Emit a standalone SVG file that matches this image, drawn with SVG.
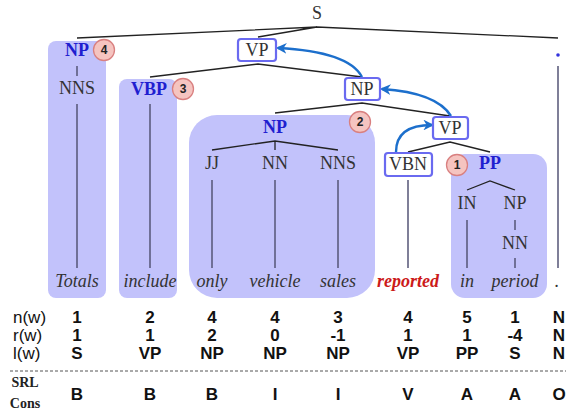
<svg xmlns="http://www.w3.org/2000/svg" width="571" height="414" viewBox="0 0 571 414">
<style>
.bg{fill:#c2c2fb}
.t{font-family:"Liberation Serif",serif;font-size:18px;fill:#333;text-anchor:middle}
.bl{font-family:"Liberation Serif",serif;font-size:18px;font-weight:bold;fill:#1f1fd0;text-anchor:middle}
.w{font-family:"Liberation Serif",serif;font-size:18px;font-style:italic;fill:#333;text-anchor:middle}
.ln{stroke:#222;stroke-width:1.3;fill:none}
.vl{stroke:#555577;stroke-width:1.5;fill:none}
.bx{fill:#fff;stroke:#6a6af0;stroke-width:2.2}
.c{fill:#f5c4c0;stroke:#d98080;stroke-width:1.3}
.cn{font-family:"Liberation Sans",sans-serif;font-size:12px;font-weight:bold;fill:#222;text-anchor:middle}
.ar{stroke:#1c6fcc;stroke-width:2.4;fill:none}
.tb{font-family:"Liberation Sans",sans-serif;font-size:17px;font-weight:bold;fill:#111;text-anchor:middle}
.tl{font-family:"Liberation Sans",sans-serif;font-size:17px;fill:#111}
.sr{font-family:"Liberation Serif",serif;font-size:14px;font-weight:bold;fill:#222;text-anchor:middle}
</style>
<defs>
<marker id="ah" viewBox="0 0 10 10" refX="8" refY="5" markerWidth="4.5" markerHeight="4.5" orient="auto">
<path d="M0,0 L10,5 L0,10 L3,5 Z" fill="#1c6fcc"/>
</marker>
</defs>
<rect width="571" height="414" fill="#fff"/>

<g id="highlights">
<rect class="bg" x="48" y="41" width="58" height="257" rx="8"/>
<rect class="bg" x="119" y="79" width="58" height="219" rx="8"/>
<rect class="bg" x="189" y="115" width="186" height="183" rx="28"/>
<rect class="bg" x="451" y="154" width="96" height="144" rx="14"/>
</g>

<g id="connectors">
<path class="ln" d="M77,38 L317,27 L558,38 M317,27 L258,37"/>
<path class="ln" d="M150,77 L258,64 L362,77"/>
<path class="ln" d="M275,113 L362,103 L450,116"/>
<path class="ln" d="M212,150 L275,141 L338,150 M275,141 V150"/>
<path class="ln" d="M408,152 L450,142 L490,152"/>
<path class="ln" d="M467,190 L490,181 L515,190"/>
<path class="vl" d="M77,66 V76 M77,104 V268 M150,104 V268 M212,180 V268 M275,180 V268 M338,180 V268 M408,180 V268 M467,220 V268 M515,220 V230 M515,258 V268 M558,66 V268"/>
<path class="ar" marker-end="url(#ah)" d="M451,116 C440,98 412,91 382,89"/>
<path class="ar" marker-end="url(#ah)" d="M362,77 C352,58 318,50 278,48"/>
<path class="ar" marker-end="url(#ah)" d="M396,152 C396,132 410,125 432,125"/>
</g>

<g id="S"><text class="t" x="317" y="19">S</text></g>
<g id="NP4">
<text class="bl" x="77" y="56">NP</text>
<circle class="c" cx="104" cy="50" r="10.5"/><text class="cn" x="104" y="54">4</text>
<text class="t" x="77" y="94">NNS</text>
</g>
<g id="VP1"><rect class="bx" x="238" y="39" width="38" height="22" rx="3"/><text class="t" x="257" y="56">VP</text></g>
<g id="VBP3">
<text class="bl" x="149" y="95">VBP</text>
<circle class="c" cx="183" cy="89" r="10.5"/><text class="cn" x="183" y="93">3</text>
</g>
<g id="NP1"><rect class="bx" x="345" y="78" width="35" height="22" rx="3"/><text class="t" x="362" y="95">NP</text></g>
<g id="NP2">
<text class="bl" x="275" y="133">NP</text>
<circle class="c" cx="360" cy="122" r="10.5"/><text class="cn" x="360" y="126">2</text>
<text class="t" x="212" y="169">JJ</text>
<text class="t" x="275" y="169">NN</text>
<text class="t" x="338" y="169">NNS</text>
</g>
<g id="VP2"><rect class="bx" x="433" y="117" width="35" height="22" rx="3"/><text class="t" x="450" y="134">VP</text></g>
<g id="VBN"><rect class="bx" x="385" y="153" width="47" height="23" rx="3"/><text class="t" x="408" y="170">VBN</text></g>
<g id="PP1">
<circle class="c" cx="457" cy="165" r="10.5"/><text class="cn" x="457" y="169">1</text>
<text class="bl" x="490" y="169">PP</text>
<text class="t" x="467" y="209">IN</text>
<text class="t" x="515" y="209">NP</text>
<text class="t" x="515" y="249">NN</text>
</g>
<g id="punct"><circle cx="558" cy="55" r="1.8" fill="#3333dd"/></g>

<g id="words">
<text class="w" x="77" y="287">Totals</text>
<text class="w" x="150" y="287">include</text>
<text class="w" x="212" y="287">only</text>
<text class="w" x="275" y="287">vehicle</text>
<text class="w" x="338" y="287">sales</text>
<text class="w" x="408" y="287" style="fill:#cc1a1a;font-weight:bold">reported</text>
<text class="w" x="467" y="287">in</text>
<text class="w" x="515" y="287">period</text>
<text class="w" x="557" y="287">.</text>
</g>

<g id="table">
<text class="tl" x="13" y="323">n(w)</text>
<text class="tl" x="13" y="341">r(w)</text>
<text class="tl" x="13" y="359">l(w)</text>
<text class="tb" x="77" y="323">1</text><text class="tb" x="150" y="323">2</text><text class="tb" x="212" y="323">4</text><text class="tb" x="275" y="323">4</text><text class="tb" x="338" y="323">3</text><text class="tb" x="408" y="323">4</text><text class="tb" x="467" y="323">5</text><text class="tb" x="515" y="323">1</text><text class="tb" x="559" y="323">N</text>
<text class="tb" x="77" y="341">1</text><text class="tb" x="150" y="341">1</text><text class="tb" x="212" y="341">2</text><text class="tb" x="275" y="341">0</text><text class="tb" x="338" y="341">-1</text><text class="tb" x="408" y="341">1</text><text class="tb" x="467" y="341">1</text><text class="tb" x="515" y="341">-4</text><text class="tb" x="559" y="341">N</text>
<text class="tb" x="77" y="359">S</text><text class="tb" x="150" y="359">VP</text><text class="tb" x="212" y="359">NP</text><text class="tb" x="275" y="359">NP</text><text class="tb" x="338" y="359">NP</text><text class="tb" x="408" y="359">VP</text><text class="tb" x="467" y="359">PP</text><text class="tb" x="515" y="359">S</text><text class="tb" x="559" y="359">N</text>
<line x1="10" y1="371" x2="566" y2="371" stroke="#555" stroke-width="1" stroke-dasharray="3,2"/>
<text class="sr" x="25" y="387">SRL</text>
<text class="sr" x="25" y="408">Cons</text>
<text class="tb" x="77" y="400">B</text><text class="tb" x="150" y="400">B</text><text class="tb" x="212" y="400">B</text><text class="tb" x="275" y="400">I</text><text class="tb" x="338" y="400">I</text><text class="tb" x="408" y="400">V</text><text class="tb" x="467" y="400">A</text><text class="tb" x="515" y="400">A</text><text class="tb" x="559" y="400">O</text>
</g>
</svg>
